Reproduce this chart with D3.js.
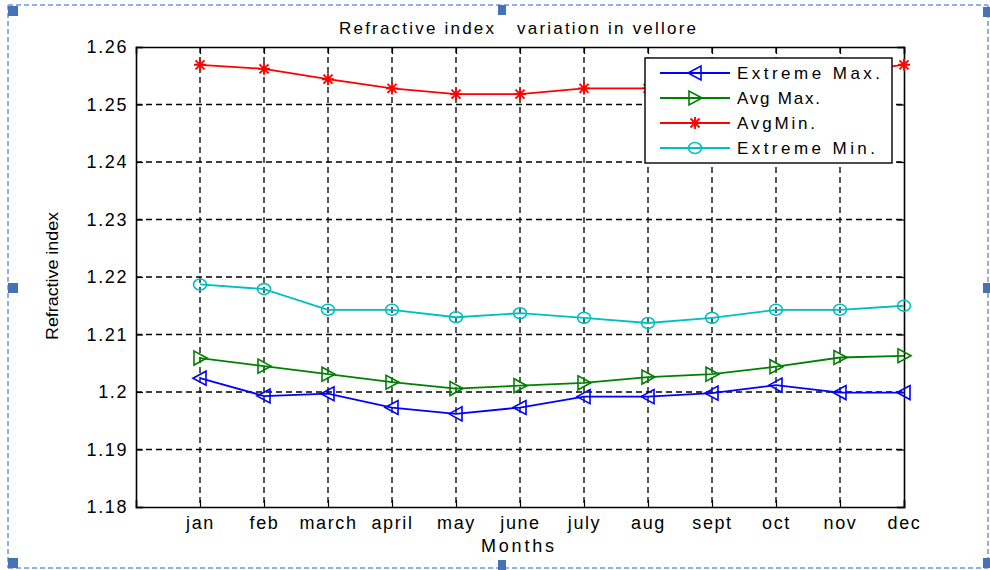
<!DOCTYPE html>
<html>
<head>
<meta charset="utf-8">
<script src="https://cdn.jsdelivr.net/npm/d3@7"></script>
<style>
  body { margin: 0; background: #fff; }
  svg text { font-family: "Liberation Sans", Arial, sans-serif; fill: #000; }
</style>
</head>
<body>
<div id="chart"></div>
<script>
const months = ["jan", "feb", "march", "april", "may", "june", "july", "aug", "sept", "oct", "nov", "dec"];
const yTicks = [1.18, 1.19, 1.2, 1.21, 1.22, 1.23, 1.24, 1.25, 1.26];

const extremeMax = [1.2024, 1.1993, 1.1997, 1.1973, 1.1962, 1.1973, 1.1992, 1.1992, 1.1998, 1.2012, 1.1999, 1.1999];
const avgMax     = [1.2059, 1.2045, 1.2031, 1.2017, 1.2006, 1.2011, 1.2016, 1.2026, 1.2031, 1.2044, 1.2060, 1.2063];
const avgMin     = [1.2569, 1.2562, 1.2544, 1.2528, 1.2518, 1.2518, 1.2528, 1.2528, 1.2535, 1.2545, 1.2556, 1.2569];
const extremeMin = [1.2187, 1.2179, 1.2143, 1.2143, 1.2130, 1.2137, 1.2129, 1.2120, 1.2129, 1.2143, 1.2143, 1.2150];

const series = [
    { name: "Extreme Max.", values: extremeMax, color: "#0000ff", marker: "left",   textLen: 143 },
    { name: "Avg Max.",     values: avgMax,     color: "#008000", marker: "right",  textLen: 83 },
    { name: "AvgMin.",      values: avgMin,     color: "#ff0000", marker: "star",   textLen: 78 },
    { name: "Extreme Min.", values: extremeMin, color: "#00bfbf", marker: "circle", textLen: 138 }
];

const W = 990, H = 570;
const margin = { top: 47, right: 86, bottom: 63, left: 136 },
    width = W - margin.left - margin.right,
    height = H - margin.top - margin.bottom;

const root = d3.select("#chart")
    .append("svg")
    .attr("width", W)
    .attr("height", H);

const svg = root.append("g")
    .attr("transform", `translate(${margin.left},${margin.top})`);

const x = d3.scaleLinear().domain([0, 12]).range([0, width]);
const y = d3.scaleLinear().domain([1.18, 1.26]).range([height, 0]);

// dashed grid
svg.append("g")
    .selectAll("line")
    .data(d3.range(1, 12))
    .join("line")
    .attr("x1", d => x(d)).attr("x2", d => x(d))
    .attr("y1", 0).attr("y2", height)
    .attr("stroke", "#000").attr("stroke-width", 1.3)
    .attr("stroke-dasharray", "6,4");

svg.append("g")
    .selectAll("line")
    .data(yTicks.slice(1, -1))
    .join("line")
    .attr("x1", 0).attr("x2", width)
    .attr("y1", d => y(d)).attr("y2", d => y(d))
    .attr("stroke", "#000").attr("stroke-width", 1.3)
    .attr("stroke-dasharray", "6,4");

// axes (ticks pointing inward like matlab)
svg.append("g")
    .attr("transform", `translate(0,${height})`)
    .call(d3.axisBottom(x)
        .tickValues(d3.range(1, 13))
        .tickFormat(i => months[i - 1])
        .tickSize(-7)
        .tickPadding(9));

svg.append("g")
    .call(d3.axisLeft(y)
        .tickValues(yTicks)
        .tickFormat(d => String(+d.toFixed(2)))
        .tickSize(-7)
        .tickPadding(8));

svg.append("g")
    .call(d3.axisTop(x).tickValues(d3.range(1, 13)).tickFormat("").tickSize(-7));
svg.append("g")
    .attr("transform", `translate(${width},0)`)
    .call(d3.axisRight(y).tickValues(yTicks).tickFormat("").tickSize(-7));

root.selectAll(".domain").attr("stroke", "#000").attr("stroke-width", 1.6);
root.selectAll(".tick line").attr("stroke", "#000").attr("stroke-width", 1.2);
root.selectAll(".tick text")
    .style("font-size", "18px")
    .style("letter-spacing", "1.6px")
    .style("font-family", "Liberation Sans, Arial, sans-serif");

// lines + markers
const line = d3.line()
    .x((d, i) => x(i + 1))
    .y(d => y(d));

function drawMarker(g, type, color) {
    if (type === "left") {
        g.append("path").attr("d", "M-7,0 L6,-7 L6,7 Z")
            .attr("fill", "none").attr("stroke", color).attr("stroke-width", 1.6);
    } else if (type === "right") {
        g.append("path").attr("d", "M7,0 L-6,-7 L-6,7 Z")
            .attr("fill", "none").attr("stroke", color).attr("stroke-width", 1.6);
    } else if (type === "circle") {
        g.append("ellipse").attr("rx", 6.5).attr("ry", 5.5)
            .attr("fill", "none").attr("stroke", color).attr("stroke-width", 1.6);
    } else {
        g.append("path").attr("d", "M-6,0 H6 M0,-6 V6 M-4.5,-4.5 L4.5,4.5 M-4.5,4.5 L4.5,-4.5")
            .attr("stroke", color).attr("stroke-width", 1.9);
    }
}

series.forEach(s => {
    svg.append("path")
        .datum(s.values)
        .attr("fill", "none")
        .attr("stroke", s.color)
        .attr("stroke-width", 1.8)
        .attr("d", line);

    svg.append("g")
        .selectAll("g")
        .data(s.values)
        .join("g")
        .attr("transform", (d, i) => `translate(${x(i + 1)},${y(d)})`)
        .each(function () { drawMarker(d3.select(this), s.marker, s.color); });
});

// legend
const legend = root.append("g").attr("transform", "translate(645,58)");
legend.append("rect")
    .attr("width", 247).attr("height", 105)
    .attr("fill", "#fff").attr("stroke", "#000").attr("stroke-width", 1.4);

series.forEach((s, i) => {
    const row = legend.append("g").attr("transform", `translate(0,${15 + i * 25})`);
    row.append("line").attr("x1", 15).attr("x2", 85).attr("y1", 0).attr("y2", 0)
        .attr("stroke", s.color).attr("stroke-width", 1.8);
    drawMarker(row.append("g").attr("transform", "translate(50,0)"), s.marker, s.color);
    row.append("text")
        .attr("x", 92).attr("y", 6)
        .attr("textLength", s.textLen)
        .attr("lengthAdjust", "spacing")
        .style("font-size", "17px")
        .text(s.name);
});

// titles
root.append("text")
    .attr("x", 339).attr("y", 34)
    .attr("textLength", 357)
    .attr("lengthAdjust", "spacing")
    .style("white-space", "pre")
    .style("font-size", "17px")
    .text("Refractive index   variation in vellore");

root.append("text")
    .attr("transform", "translate(58,276) rotate(-90)")
    .attr("text-anchor", "middle")
    .attr("textLength", 128)
    .attr("lengthAdjust", "spacingAndGlyphs")
    .style("font-size", "16px")
    .text("Refractive index");

root.append("text")
    .attr("x", 481).attr("y", 552)
    .attr("textLength", 73)
    .attr("lengthAdjust", "spacing")
    .style("font-size", "18px")
    .text("Months");

// selection frame around the picture
const frame = root.append("g");
const frameColor = "#8db3e2", handleColor = "#4472b4";
[[8, 5, 988, 5], [8, 568, 988, 568], [8, 5, 8, 568], [988, 5, 988, 568]].forEach(p => {
    frame.append("line")
        .attr("x1", p[0]).attr("y1", p[1]).attr("x2", p[2]).attr("y2", p[3])
        .attr("stroke", frameColor).attr("stroke-width", 2)
        .attr("stroke-dasharray", "5,3");
});
const handles = [[8, 6], [498, 5], [983, 7], [8, 283], [983, 283], [8, 558], [498, 560], [983, 558]];
frame.selectAll("rect.h")
    .data(handles)
    .join("rect")
    .attr("class", "h")
    .attr("x", d => d[0]).attr("y", d => d[1])
    .attr("width", d => d[0] === 498 ? 8 : 10)
    .attr("height", 10)
    .attr("fill", handleColor);
</script>
</body>
</html>
